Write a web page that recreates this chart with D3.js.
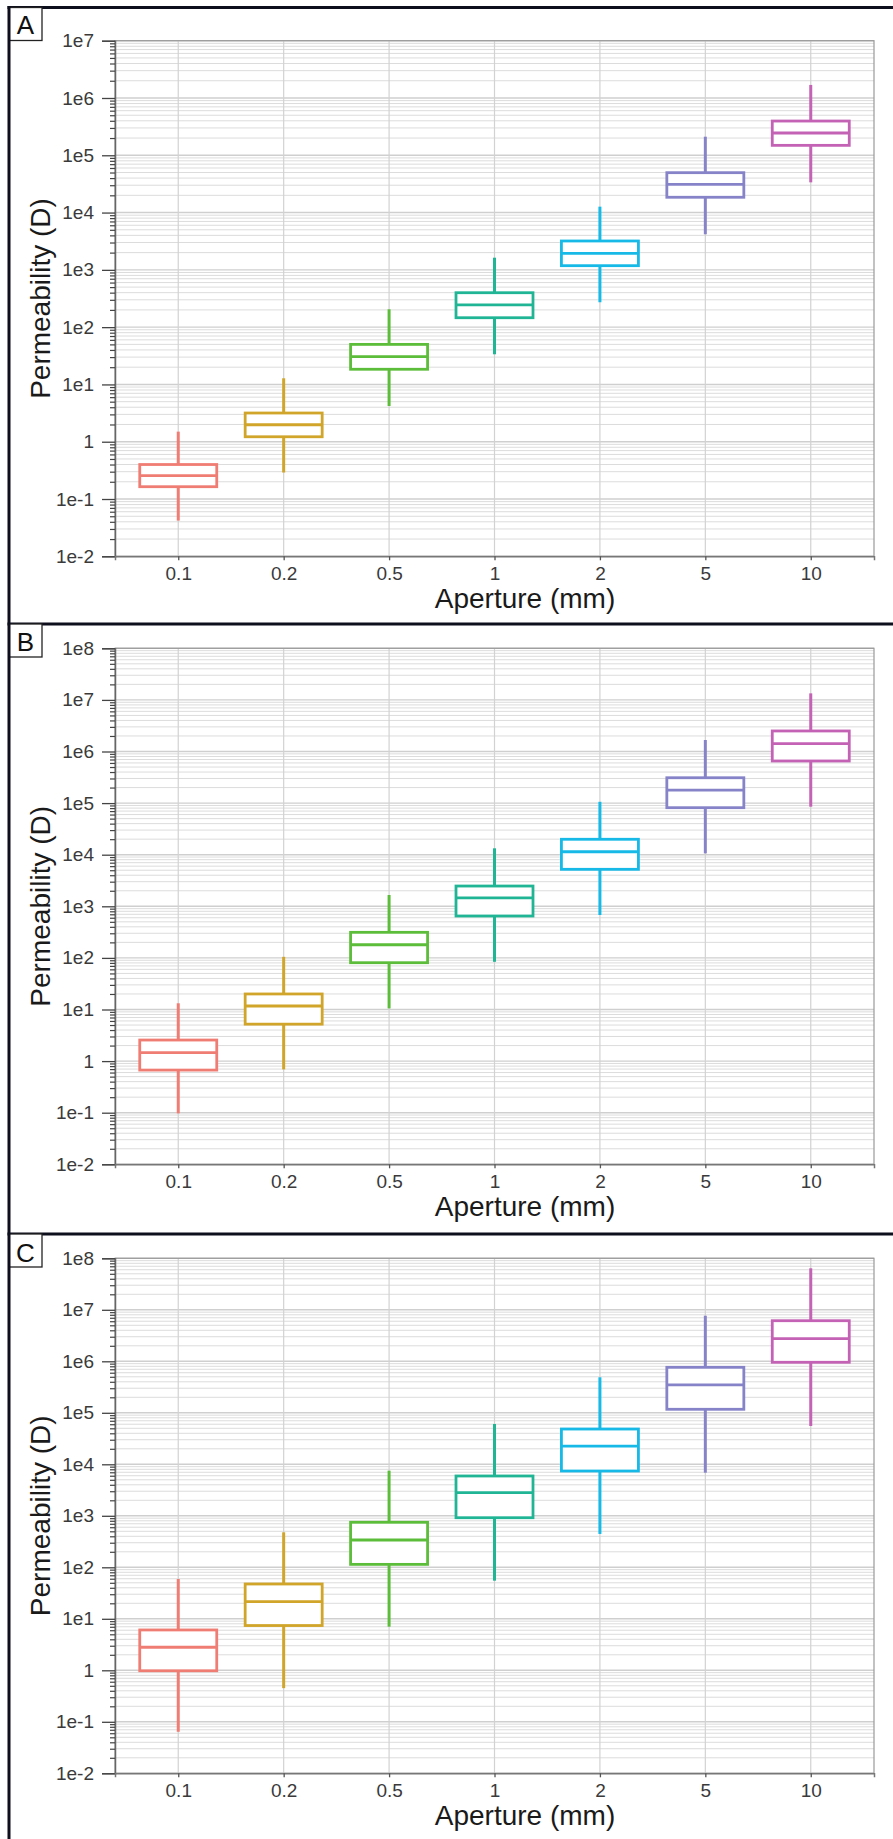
<!DOCTYPE html>
<html>
<head>
<meta charset="utf-8">
<script src="https://cdn.jsdelivr.net/npm/d3@7"></script>
<style>
  html, body { margin: 0; padding: 0; background: #fff; }
  svg { display: block; }
  text { font-family: "Liberation Sans", Arial, Helvetica, sans-serif; }
</style>
</head>
<body>
<svg id="chart" width="893" height="1839"></svg>
<script>
// ---------------- data ----------------
const apertures = ["0.1", "0.2", "0.5", "1", "2", "5", "10"];
const panelLabels = ["A", "B", "C"];
const yTickLabels = ["1e-2", "1e-1", "1", "1e1", "1e2", "1e3", "1e4", "1e5", "1e6", "1e7", "1e8"];
const yTickValues = [1e-2, 1e-1, 1, 1e1, 1e2, 1e3, 1e4, 1e5, 1e6, 1e7, 1e8];
const boxColors = ["#F07D74", "#D0A52A", "#5CBD3A", "#20B594", "#17BAE6", "#8683C8", "#C462B5"];
const xTitle = "Aperture (mm)";
const yTitle = "Permeability (D)";

// Panel A
const aLow  = [0.042, 0.29, 4.2, 33.6, 272, 4180, 33700];
const aQ1   = [0.164, 1.22, 18.4, 146, 1183, 18500, 149000];
const aMed  = [0.255, 1.98, 30.5, 244, 1945, 31100, 245000];
const aQ3   = [0.40, 3.17, 50, 399, 3190, 49700, 396000];
const aHigh = [1.5, 12.8, 205, 1630, 12680, 211000, 1.69e6];
// Panel B
const bLow  = [0.097, 0.69, 10.5, 84, 678, 10600, 85100];
const bQ1   = [0.67, 5.2, 80.7, 649, 5210, 81500, 655000];
const bMed  = [1.46, 11.7, 180, 1450, 11400, 179000, 1.42e6];
const bQ3   = [2.56, 20, 313, 2470, 19900, 310000, 2.5e6];
const bHigh = [13.2, 105, 1655, 13300, 106000, 1.67e6, 1.34e7];
// Panel C
const cLow  = [0.064, 0.45, 7.03, 55, 444, 6870, 55400];
const cQ1   = [0.98, 7.4, 114, 918, 7410, 117000, 957000];
const cMed  = [2.80, 21.5, 339, 2810, 22600, 347000, 2.75e6];
const cQ3   = [6.07, 47.4, 748, 5930, 48400, 764000, 6.14e6];
const cHigh = [59.3, 478, 7520, 60700, 489000, 7.67e6, 6.4e7];

const yMaxA = 1e7, yMaxBC = 1e8, yMin = 1e-2;

// ---------------- layout ----------------
const svg = d3.select("#chart");
const W = 893, H = 1839;
const plotLeft = 115, plotRight = 874;
const panels = [
  { label: panelLabels[0], border: 7.5,  top: 40.7,  bottom: 556.3,  yMax: yMaxA,  low: aLow, q1: aQ1, med: aMed, q3: aQ3, high: aHigh, labelBase: 33.5 },
  { label: panelLabels[1], border: 624,  top: 648.3, bottom: 1164.3, yMax: yMaxBC, low: bLow, q1: bQ1, med: bMed, q3: bQ3, high: bHigh, labelBase: 650.5 },
  { label: panelLabels[2], border: 1234, top: 1258.3, bottom: 1773.3, yMax: yMaxBC, low: cLow, q1: cQ1, med: cMed, q3: cQ3, high: cHigh, labelBase: 1261.5 }
];

const x = d3.scalePoint().domain(apertures).range([plotLeft, plotRight]).padding(0.6);
const boxW = 77;

panels.forEach(p => {
  const g = svg.append("g");
  const y = d3.scaleLog().domain([yMin, p.yMax]).range([p.bottom, p.top]);

  // minor + major values
  const minor = [];
  const decades = yTickValues.filter(v => v >= yMin && v <= p.yMax);
  decades.forEach(d => { if (d < p.yMax) for (let k = 2; k <= 9; k++) minor.push(d * k); });

  // horizontal gridlines
  g.append("g").selectAll("line.minor").data(minor).join("line")
    .attr("x1", plotLeft).attr("x2", plotRight)
    .attr("y1", d => y(d)).attr("y2", d => y(d))
    .attr("stroke", "#dcdcdc").attr("stroke-width", 1);
  g.append("g").selectAll("line.major").data(decades).join("line")
    .attr("x1", plotLeft).attr("x2", plotRight)
    .attr("y1", d => y(d)).attr("y2", d => y(d))
    .attr("stroke", "#cfcfcf").attr("stroke-width", 1.4);
  // vertical gridlines
  g.append("g").selectAll("line.vg").data(apertures).join("line")
    .attr("x1", d => x(d)).attr("x2", d => x(d))
    .attr("y1", p.top).attr("y2", p.bottom)
    .attr("stroke", "#d2d2d2").attr("stroke-width", 1.2);

  // plot frame
  g.append("rect").attr("x", plotLeft).attr("y", p.top)
    .attr("width", plotRight - plotLeft).attr("height", p.bottom - p.top)
    .attr("fill", "none").attr("stroke", "#9a9a9a").attr("stroke-width", 1.2);

  // y axis
  const yAxis = d3.axisLeft(y).tickValues(decades)
    .tickFormat(d => yTickLabels[yTickValues.indexOf(d)])
    .tickSize(13).tickPadding(8);
  const ya = g.append("g").attr("transform", `translate(${plotLeft},0)`).call(yAxis);
  ya.select(".domain").attr("stroke", "#666").attr("stroke-width", 1.5);
  ya.selectAll(".tick line").attr("stroke", "#444").attr("stroke-width", 1.3);
  ya.selectAll(".tick text").attr("font-size", 19).attr("fill", "#3a3a3a")
    .attr("font-family", "'Liberation Sans', Arial, sans-serif");
  // minor ticks
  const minorAxis = d3.axisLeft(y).tickValues(minor).tickFormat("").tickSize(5);
  const ym = g.append("g").attr("transform", `translate(${plotLeft},0)`).call(minorAxis);
  ym.select(".domain").remove();
  ym.selectAll(".tick line").attr("stroke", "#444").attr("stroke-width", 1.2);

  // x axis
  const xAxis = d3.axisBottom(x).tickSize(4).tickPadding(6);
  const xa = g.append("g").attr("transform", `translate(0,${p.bottom})`).call(xAxis);
  xa.select(".domain").attr("stroke", "#777").attr("stroke-width", 1.5);
  xa.selectAll(".tick line").attr("stroke", "#555").attr("stroke-width", 1.3);
  xa.selectAll(".tick text").attr("font-size", 19).attr("fill", "#3a3a3a")
    .attr("font-family", "'Liberation Sans', Arial, sans-serif");

  // boxes
  const rows = apertures.map((a, i) => ({ a, i, low: p.low[i], q1: p.q1[i], med: p.med[i], q3: p.q3[i], high: p.high[i] }));
  const bg = g.append("g").selectAll("g.box").data(rows).join("g");
  bg.append("line").attr("x1", d => x(d.a)).attr("x2", d => x(d.a))
    .attr("y1", d => y(d.high)).attr("y2", d => y(d.q3))
    .attr("stroke", d => boxColors[d.i]).attr("stroke-width", 3);
  bg.append("line").attr("x1", d => x(d.a)).attr("x2", d => x(d.a))
    .attr("y1", d => y(d.q1)).attr("y2", d => y(d.low))
    .attr("stroke", d => boxColors[d.i]).attr("stroke-width", 3);
  bg.append("rect").attr("x", d => x(d.a) - boxW / 2).attr("width", boxW)
    .attr("y", d => y(d.q3)).attr("height", d => y(d.q1) - y(d.q3))
    .attr("fill", "#fff").attr("stroke", d => boxColors[d.i]).attr("stroke-width", 2.8);
  bg.append("line").attr("x1", d => x(d.a) - boxW / 2).attr("x2", d => x(d.a) + boxW / 2)
    .attr("y1", d => y(d.med)).attr("y2", d => y(d.med))
    .attr("stroke", d => boxColors[d.i]).attr("stroke-width", 2.8);

  // axis titles
  g.append("text").attr("x", 525).attr("y", p.bottom + 52)
    .attr("text-anchor", "middle").attr("font-size", 28).attr("fill", "#1a1a1a")
    .text(xTitle);
  g.append("text")
    .attr("transform", `translate(50,${(p.top + p.bottom) / 2}) rotate(-90)`)
    .attr("text-anchor", "middle").attr("font-size", 28).attr("fill", "#1a1a1a")
    .text(yTitle);

  // panel border line (top)
  g.append("line").attr("x1", 7.5).attr("x2", W).attr("y1", p.border).attr("y2", p.border)
    .attr("stroke", "#0d0f1c").attr("stroke-width", 3);
  // label box
  g.append("rect").attr("x", 9).attr("y", p.border).attr("width", 33).attr("height", 33)
    .attr("fill", "#fff").attr("stroke", "#222").attr("stroke-width", 1.3);
  g.append("text").attr("x", 25.5).attr("y", p.labelBase)
    .attr("text-anchor", "middle").attr("font-size", 26).attr("fill", "#111")
    .text(p.label);
});

// left figure border
svg.append("line").attr("x1", 9).attr("x2", 9).attr("y1", 6).attr("y2", H)
  .attr("stroke", "#0d0f1c").attr("stroke-width", 3);
</script>
</body>
</html>
